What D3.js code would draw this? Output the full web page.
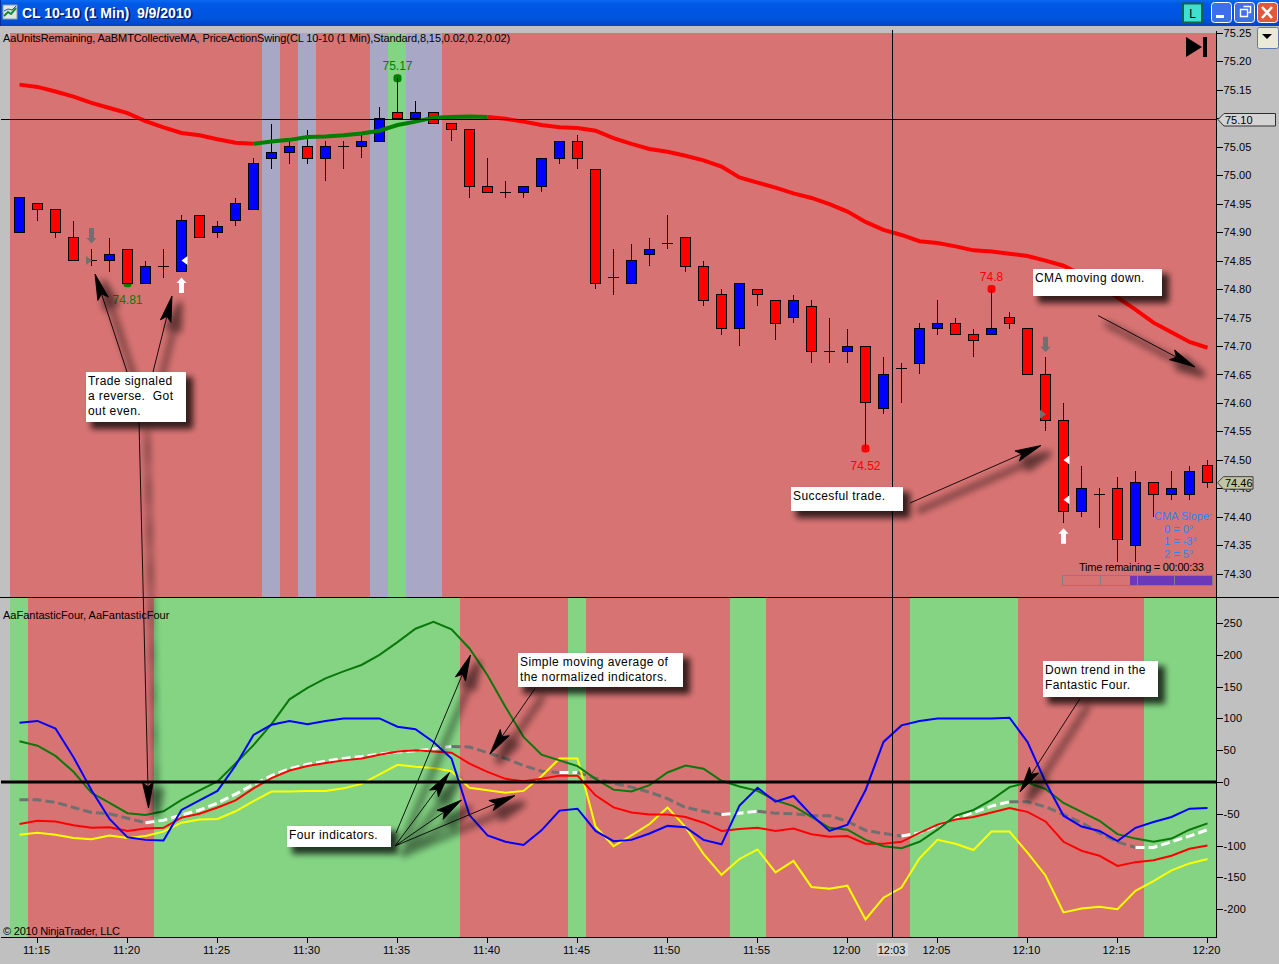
<!DOCTYPE html>
<html>
<head>
<meta charset="utf-8">
<title>CL 10-10 (1 Min)</title>
<script src="https://cdn.jsdelivr.net/npm/d3@7"></script>
<style>
  html, body { margin: 0; padding: 0; background: #c0c0c0; overflow: hidden; }
  svg { display: block; }
  text { font-family: "Liberation Sans", Arial, sans-serif; font-size: 11px; fill: #000; }
  .axis path { display: none; }
  .axis line { stroke: #000; shape-rendering: crispEdges; }
  .axis text { font-size: 11px; letter-spacing: 0.1px; }
</style>
</head>
<body>
<svg id="chart" width="1279" height="964"></svg>
<script>
// one candle per minute, first one is 11:14
var opens = [74.90,74.95,74.94,74.89,74.85,74.85,74.87,74.81,74.84,74.83,
    74.93,74.90,74.92,74.94,75.03,75.04,75.05,75.03,75.05,75.05,
    75.06,75.11,75.10,75.11,75.09,75.08,74.98,74.97,74.97,74.98,
    75.03,75.06,75.01,74.82,74.81,74.86,74.88,74.89,74.84,74.79,
    74.73,74.80,74.78,74.75,74.77,74.69,74.69,74.70,74.59,74.66,
    74.67,74.73,74.74,74.72,74.72,74.75,74.73,74.65,74.57,74.41,
    74.44,74.45,74.35,74.46,74.44,74.44,74.49];
var closes = [74.96,74.94,74.90,74.85,74.85,74.86,74.81,74.84,74.84,74.92,
    74.89,74.91,74.95,75.02,75.04,75.05,75.03,75.05,75.05,75.06,
    75.10,75.10,75.11,75.09,75.08,74.98,74.97,74.97,74.98,75.03,
    75.06,75.03,74.81,74.82,74.85,74.87,74.88,74.84,74.78,74.73,
    74.81,74.79,74.74,74.78,74.69,74.69,74.70,74.60,74.65,74.66,
    74.73,74.74,74.72,74.71,74.73,74.74,74.65,74.57,74.41,74.45,
    74.44,74.36,74.46,74.44,74.45,74.48,74.46];
var highs = [74.96,74.95,74.94,74.92,74.87,74.89,74.87,74.85,74.87,74.93,
    74.93,74.92,74.96,75.03,75.09,75.06,75.08,75.06,75.06,75.07,
    75.12,75.17,75.13,75.11,75.09,75.08,75.03,74.99,74.98,75.03,
    75.06,75.07,75.01,74.87,74.88,74.89,74.93,74.89,74.85,74.80,
    74.81,74.80,74.78,74.79,74.78,74.75,74.73,74.70,74.68,74.67,
    74.74,74.78,74.75,74.73,74.80,74.76,74.73,74.68,74.60,74.49,
    74.45,74.47,74.48,74.46,74.48,74.49,74.50];
var lows = [74.90,74.92,74.89,74.85,74.84,74.83,74.81,74.81,74.82,74.83,
    74.89,74.89,74.91,74.94,75.01,75.02,75.02,74.99,75.01,75.03,
    75.06,75.10,75.10,75.09,75.06,74.96,74.97,74.96,74.96,74.97,
    75.02,75.01,74.80,74.79,74.81,74.84,74.87,74.83,74.77,74.72,
    74.70,74.77,74.71,74.74,74.67,74.67,74.67,74.52,74.58,74.60,
    74.65,74.72,74.72,74.68,74.72,74.73,74.65,74.55,74.39,74.40,
    74.38,74.32,74.32,74.40,74.43,74.43,74.45];

// collective moving average on the price panel
var cmaValues = [75.159,75.155,75.147,75.138,75.127,75.118,75.109,75.095,75.084,75.074,
    75.070,75.063,75.057,75.055,75.059,75.062,75.067,75.068,75.070,75.073,
    75.078,75.088,75.094,75.101,75.102,75.103,75.102,75.099,75.094,75.088,
    75.084,75.083,75.078,75.065,75.055,75.046,75.041,75.034,75.026,75.015,
    74.996,74.987,74.978,74.968,74.960,74.949,74.936,74.918,74.904,74.895,
    74.884,74.881,74.875,74.868,74.866,74.862,74.858,74.850,74.841,74.825,
    74.809,74.785,74.764,74.741,74.724,74.707,74.697];
var cmaRisingFrom = 13, cmaRisingTo = 26;

// fantastic four panel
var blueValues = [93,96,84,39,-13,-58,-87,-91,-92,-44,
    -29,-14,26,74,90,96,91,96,100,100,
    100,87,83,63,37,-52,-84,-94,-99,-76,
    -45,-42,-77,-93,-91,-81,-69,-71,-91,-98,
    -37,-9,-31,-22,-52,-77,-67,-13,63,89,
    96,100,100,100,100,101,63,0,-53,-70,
    -77,-93,-72,-63,-55,-42,-41];
var greenValues = [64,57,41,16,-17,-33,-49,-52,-46,-28,
    -13,1,29,58,91,130,148,163,174,184,
    200,220,241,252,240,210,168,118,71,43,
    34,25,5,-12,-15,-5,15,26,21,2,
    -7,-14,-29,-38,-55,-72,-75,-91,-101,-104,
    -94,-75,-53,-44,-28,-8,-1,-11,-33,-47,
    -61,-82,-89,-94,-89,-75,-65];
var redValues = [-66,-61,-62,-68,-72,-71,-77,-73,-72,-56,
    -50,-40,-29,-10,6,18,25,30,34,37,
    43,48,50,48,46,29,16,5,1,5,
    10,10,-21,-40,-48,-51,-51,-55,-64,-77,
    -74,-72,-77,-73,-82,-86,-85,-97,-97,-94,
    -80,-67,-59,-55,-48,-41,-47,-62,-94,-108,
    -116,-132,-126,-123,-116,-105,-100];
var yellowValues = [-83,-80,-83,-88,-90,-84,-88,-85,-78,-64,
    -59,-58,-46,-30,-15,-15,-14,-14,-10,-3,
    12,27,24,22,17,-9,-13,-17,-14,9,
    37,37,-70,-101,-84,-66,-40,-71,-113,-146,
    -121,-106,-142,-124,-165,-168,-163,-216,-182,-166,
    -120,-91,-97,-107,-78,-78,-111,-147,-205,-199,
    -196,-200,-171,-156,-139,-128,-121];
var smaValues = [-28,-28,-32,-40,-48,-50,-57,-64,-60,-52,
    -44,-33,-19,-4,10,21,28,33,37,40,
    44,47,49,52,56,55,46,37,26,17,
    15,15,6,-2,-8,-16,-26,-40,-46,-51,
    -49,-46,-49,-50,-53,-53,-62,-76,-81,-85,
    -80,-69,-57,-48,-38,-31,-31,-39,-51,-64,
    -80,-94,-103,-103,-94,-85,-75];

// background state of each minute, [first, last, state]
var upperBands = [[0,13,"down"],[14,14,"flat"],[15,15,"down"],[16,16,"flat"],[17,19,"down"],
    [20,20,"flat"],[21,21,"up"],[22,23,"flat"],[24,66,"down"]];
var lowerBands = [[0,0,"up"],[1,7,"down"],[8,24,"up"],[25,30,"down"],[31,31,"up"],[32,39,"down"],
    [40,41,"up"],[42,49,"down"],[50,55,"up"],[56,62,"down"],[63,66,"up"]];

var priceTicks = [75.25,75.20,75.15,75.10,75.05,75.00,74.95,74.90,74.85,74.80,74.75,74.70,74.65,74.60,74.55,74.50,74.45,74.40,74.35,74.30];
var indicatorTicks = [250,200,150,100,50,0,-50,-100,-150,-200];
var timeTickIndex = [1,6,11,16,21,26,31,36,41,46,51,56,61,66];
var timeTickLabels = ["11:15","11:20","11:25","11:30","11:35","11:40","11:45","11:50","11:55","12:00","12:05","12:10","12:15","12:20"];

// swing points: [minute index, price, label, colour, label offset]
var swingPoints = [[21,75.17,"75.17","#008000",-8],[6,74.81,"74.81","#008000",21],[54,74.80,"74.8","#ff0000",-8],[47,74.52,"74.52","#ff0000",21]];
// trade arrows and entry markers: [minute index, price, colour]
var tradeArrowsDown = [[4,74.893,"#707070"],[57,74.702,"#707070"]];
var tradeArrowsUp = [[9,74.807,"#ffffff"],[58,74.367,"#ffffff"]];
var entryRight = [[4,74.85,"#707070"],[57,74.58,"#707070"]];
var entryLeft = [[9,74.85,"#ffffff"],[58,74.50,"#ffffff"],[58,74.43,"#ffffff"]];

var crossIndex = 48.5, crossPrice = 75.098, crossPriceLabel = "75.10", crossTimeLabel = "12:03";
var lastPrice = 74.46;

var bandColors = { down: "#d87373", up: "#84d484", flat: "#a8a8c6" };
var lineColors = { blue: "#0000ff", green: "#0a780a", red: "#ff0000", yellow: "#ffff00" };

var panelLeft = 10, panelRight = 1216.5, upperTop = 33, panelSplit = 597.5, lowerBottom = 937;

var x = d3.scaleLinear().domain([0, 66]).range([19.5, 1207.5]);
var yPrice = d3.scaleLinear().domain([74.30, 75.25]).range([573.8, 32.8]);
var yInd = d3.scaleLinear().domain([-200, 250]).range([909.2, 623]);

var svg = d3.select("#chart");
var defs = svg.append("defs");

var grad = defs.append("linearGradient").attr("id", "titleGrad").attr("x1", 0).attr("y1", 0).attr("x2", 0).attr("y2", 1);
grad.append("stop").attr("offset", "0").attr("stop-color", "#0a6af0");
grad.append("stop").attr("offset", "0.15").attr("stop-color", "#0058e6");
grad.append("stop").attr("offset", "0.7").attr("stop-color", "#0054de");
grad.append("stop").attr("offset", "1").attr("stop-color", "#0044c4");

addShadowFilter("boxShadow", 6, 6, 1, 3, 0.75);
addShadowFilter("lineShadow", 8, 8, 2, 3.5, 0.55);

drawWindow();
drawBands(upperBands, upperTop, panelSplit);
drawBands(lowerBands, panelSplit, lowerBottom);
drawPricePanel();
drawIndicatorPanel();
drawAxes();
drawCrosshair();
drawCallouts();

// blurred shadow, the dilate step keeps thin lines visible
function addShadowFilter(id, dx, dy, grow, blur, opacity) {
    var f = defs.append("filter").attr("id", id).attr("filterUnits", "userSpaceOnUse")
        .attr("x", 0).attr("y", 0).attr("width", 1279).attr("height", 964);
    f.append("feMorphology").attr("in", "SourceAlpha").attr("operator", "dilate").attr("radius", grow).attr("result", "fat");
    f.append("feGaussianBlur").attr("in", "fat").attr("stdDeviation", blur).attr("result", "soft");
    f.append("feOffset").attr("in", "soft").attr("dx", dx).attr("dy", dy).attr("result", "moved");
    f.append("feComponentTransfer").attr("in", "moved").attr("result", "faded")
        .append("feFuncA").attr("type", "linear").attr("slope", opacity);
    var m = f.append("feMerge");
    m.append("feMergeNode").attr("in", "faded");
    m.append("feMergeNode").attr("in", "SourceGraphic");
}

function drawWindow() {
    svg.append("rect").attr("width", 1279).attr("height", 26).attr("fill", "url(#titleGrad)");
    svg.append("rect").attr("width", 1).attr("height", 26).attr("fill", "#0030a0");

    // little chart icon
    var icon = svg.append("g").attr("transform", "translate(3,5)");
    icon.append("rect").attr("width", 14).attr("height", 14).attr("fill", "#dfe8df").attr("stroke", "#8aa0b0");
    icon.append("path").attr("d", "M1,11L5,7L8,9L13,3").attr("fill", "none").attr("stroke", "#1a8a2a").attr("stroke-width", 2);
    icon.append("path").attr("d", "M1,6L5,4L9,5L13,1").attr("fill", "none").attr("stroke", "#2050c0");

    svg.append("text").attr("x", 23).attr("y", 18).style("font-size", "14px").style("font-weight", "bold")
        .style("fill", "#00207a").attr("dx", 1).attr("dy", 1).attr("xml:space", "preserve").text("CL 10-10 (1 Min)  9/9/2010");
    svg.append("text").attr("x", 22).attr("y", 18).style("font-size", "14px").style("font-weight", "bold")
        .style("fill", "#fff").attr("xml:space", "preserve").text("CL 10-10 (1 Min)  9/9/2010");

    // L button
    svg.append("rect").attr("x", 1183).attr("y", 3.5).attr("width", 19).attr("height", 19)
        .attr("fill", "#40e0d0").attr("stroke", "#17614f").attr("stroke-width", 2);
    svg.append("text").attr("x", 1192.5).attr("y", 18).attr("text-anchor", "middle").style("font-size", "12px").text("L");

    // minimize, restore, close
    [[1211, "#3f6fe8"], [1234, "#3f6fe8"], [1257, "#e2593a"]].forEach(function (b) {
        svg.append("rect").attr("x", b[0] + 0.5).attr("y", 2.5).attr("width", 20).attr("height", 20).attr("rx", 3)
            .attr("fill", b[1]).attr("stroke", "#fff");
    });
    svg.append("rect").attr("x", 1216).attr("y", 15).attr("width", 8).attr("height", 3).attr("fill", "#fff");
    svg.append("path").attr("d", "M1243.5,6.5h7v6h-2M1240.5,9.5h7v7h-7z").attr("fill", "none").attr("stroke", "#fff").attr("stroke-width", 1.4);
    svg.append("path").attr("d", "M1262,7L1272,18M1272,7L1262,18").attr("stroke", "#fff").attr("stroke-width", 2.6);

    // dropdown next to the price axis
    svg.append("rect").attr("x", 1257.5).attr("y", 27.5).attr("width", 21).attr("height", 21).attr("rx", 2)
        .attr("fill", "#ece9d8").attr("stroke", "#5a7cb0");
    svg.append("path").attr("d", "M1262,34h10l-5,5z").attr("fill", "#000");
}

function drawBands(bands, top, bottom) {
    var left = function (d) { return Math.max(panelLeft, Math.floor(x(d[0]) - 9)); };
    svg.append("g").selectAll("rect").data(bands).join("rect")
        .attr("x", left)
        .attr("y", top)
        .attr("width", function (d) { return Math.floor(x(d[1]) + 9) - left(d); })
        .attr("height", bottom - top)
        .attr("fill", function (d) { return bandColors[d[2]]; })
        .attr("shape-rendering", "crispEdges");
}

function drawPricePanel() {
    svg.append("text").attr("x", 3).attr("y", 42).style("letter-spacing", "-0.11px")
        .text("AaUnitsRemaining, AaBMTCollectiveMA, PriceActionSwing(CL 10-10 (1 Min),Standard,8,15,0.02,0.2,0.02)");

    // jump to end icon
    svg.append("path").attr("d", "M1186,37L1202,47L1186,57z").attr("fill", "#000");
    svg.append("rect").attr("x", 1203).attr("y", 37).attr("width", 4).attr("height", 20).attr("fill", "#000");

    // swing dots sit behind the candles
    svg.append("g").selectAll("rect").data(swingPoints).join("rect")
        .attr("x", function (d) { return x(d[0]) - 4; })
        .attr("y", function (d) { return yPrice(d[1]) - 4; })
        .attr("width", 8).attr("height", 8).attr("rx", 3)
        .attr("fill", function (d) { return d[3]; });
    svg.append("g").selectAll("text").data(swingPoints).join("text")
        .attr("x", function (d) { return x(d[0]); })
        .attr("y", function (d) { return yPrice(d[1]) + d[4]; })
        .attr("text-anchor", "middle")
        .style("font-size", "12px")
        .style("fill", function (d) { return d[3]; })
        .text(function (d) { return d[2]; });

    var candles = d3.range(opens.length);
    var g = svg.append("g").attr("shape-rendering", "crispEdges");
    g.selectAll("line.wick").data(candles).join("line").attr("class", "wick")
        .attr("x1", function (i) { return x(i); }).attr("x2", function (i) { return x(i); })
        .attr("y1", function (i) { return yPrice(highs[i]); })
        .attr("y2", function (i) { return yPrice(lows[i]); })
        .attr("stroke", "#000");
    g.selectAll("rect.body").data(candles.filter(function (i) { return opens[i] !== closes[i]; })).join("rect").attr("class", "body")
        .attr("x", function (i) { return x(i) - 5; })
        .attr("y", function (i) { return yPrice(Math.max(opens[i], closes[i])); })
        .attr("width", 10)
        .attr("height", function (i) { return Math.abs(yPrice(opens[i]) - yPrice(closes[i])); })
        .attr("fill", function (i) { return closes[i] > opens[i] ? "#0000ff" : "#ff0000"; })
        .attr("stroke", "#000");
    g.selectAll("line.doji").data(candles.filter(function (i) { return opens[i] === closes[i]; })).join("line").attr("class", "doji")
        .attr("x1", function (i) { return x(i) - 5.5; }).attr("x2", function (i) { return x(i) + 5.5; })
        .attr("y1", function (i) { return yPrice(opens[i]); })
        .attr("y2", function (i) { return yPrice(opens[i]); })
        .attr("stroke", "#000");

    // CMA, green while it is rising
    var cmaLine = d3.line().x(function (d) { return x(d[0]); }).y(function (d) { return yPrice(d[1]); });
    var cmaPts = cmaValues.map(function (v, i) { return [i, v]; });
    var cmaParts = [[cmaPts.slice(0, cmaRisingFrom + 1), "#ff0000"],
        [cmaPts.slice(cmaRisingTo), "#ff0000"],
        [cmaPts.slice(cmaRisingFrom, cmaRisingTo + 1), "#008000"]];
    svg.append("g").selectAll("path").data(cmaParts).join("path")
        .attr("d", function (d) { return cmaLine(d[0]); })
        .attr("fill", "none")
        .attr("stroke", function (d) { return d[1]; })
        .attr("stroke-width", 4);

    var arrows = svg.append("g");
    tradeArrowsDown.forEach(function (a) {
        var px = x(a[0]), py = yPrice(a[1]);
        arrows.append("path").attr("fill", a[2])
            .attr("d", "M" + (px - 2.5) + "," + (py - 8) + "h5v10h2.5l-5,5.5l-5,-5.5h2.5z");
    });
    tradeArrowsUp.forEach(function (a) {
        var px = x(a[0]), py = yPrice(a[1]);
        arrows.append("path").attr("fill", a[2])
            .attr("d", "M" + (px - 2.5) + "," + (py + 8) + "h5v-10h2.5l-5,-5.5l-5,5.5h2.5z");
    });
    entryRight.forEach(function (a) {
        var px = x(a[0]), py = yPrice(a[1]);
        arrows.append("path").attr("fill", a[2])
            .attr("d", "M" + (px - 5.5) + "," + (py - 4.5) + "l6,4.5l-6,4.5z");
    });
    entryLeft.forEach(function (a) {
        var px = x(a[0]), py = yPrice(a[1]);
        arrows.append("path").attr("fill", a[2])
            .attr("d", "M" + (px + 6) + "," + (py - 4.5) + "l-6,4.5l6,4.5z");
    });

    // text block bottom right
    [["CMA Slope:", 1154, 520], ["0 = 0°", 1164, 533], ["1 = -3°", 1164, 545], ["2 = 5°", 1164, 558]].forEach(function (t) {
        svg.append("text").attr("x", t[1]).attr("y", t[2]).style("fill", "#2288ff").text(t[0]);
    });
    svg.append("text").attr("x", 1079).attr("y", 571).style("letter-spacing", "-0.24px").text("Time remaining = 00:00:33");

    // units remaining bar
    svg.append("rect").attr("x", 1130).attr("y", 576).attr("width", 82).attr("height", 9).attr("fill", "#6a38b8");
    svg.append("rect").attr("x", 1062.5).attr("y", 575.5).attr("width", 149.5).attr("height", 9.5)
        .attr("fill", "none").attr("stroke", "#808080").attr("shape-rendering", "crispEdges");
    [1100, 1137.5, 1174.5].forEach(function (v) {
        svg.append("line").attr("x1", v).attr("x2", v).attr("y1", 576).attr("y2", 585)
            .attr("stroke", "#808080").attr("shape-rendering", "crispEdges");
    });
}

function drawIndicatorPanel() {
    svg.append("text").attr("x", 3).attr("y", 619).text("AaFantasticFour, AaFantasticFour");
    svg.append("text").attr("x", 3).attr("y", 935).style("letter-spacing", "-0.2px").text("© 2010 NinjaTrader, LLC");

    var line = d3.line().x(function (d, i) { return x(i); }).y(function (d) { return yInd(d); });

    // dashed average changes colour with the band under it
    var isUp = function (i) {
        return lowerBands.some(function (b) { return b[2] === "up" && i >= b[0] && i <= b[1]; });
    };
    var smaLine = d3.line().x(function (d) { return x(d); }).y(function (d) { return yInd(smaValues[d]); });
    var runs = [], current = null;
    for (var i = 1; i < smaValues.length; i++) {
        var col = isUp(i) ? "#ffffff" : "#707070";
        if (!current || current.col !== col) {
            current = { col: col, idx: [i - 1] };
            runs.push(current);
        }
        current.idx.push(i);
    }
    svg.append("g").selectAll("path").data(runs).join("path")
        .attr("d", function (d) { return smaLine(d.idx); })
        .attr("fill", "none")
        .attr("stroke", function (d) { return d.col; })
        .attr("stroke-width", 3)
        .attr("stroke-dasharray", "9,4");

    var series = [[yellowValues, lineColors.yellow], [redValues, lineColors.red], [greenValues, lineColors.green], [blueValues, lineColors.blue]];
    svg.append("g").selectAll("path").data(series).join("path")
        .attr("d", function (d) { return line(d[0]); })
        .attr("fill", "none")
        .attr("stroke", function (d) { return d[1]; })
        .attr("stroke-width", 2);

    // zero line
    svg.append("line").attr("x1", 1).attr("x2", panelRight)
        .attr("y1", yInd(0)).attr("y2", yInd(0))
        .attr("stroke", "#000").attr("stroke-width", 3);
}

function drawAxes() {
    svg.append("g").attr("class", "axis").attr("transform", "translate(" + panelRight + ",0)")
        .call(d3.axisRight(yPrice).tickValues(priceTicks).tickFormat(d3.format(".2f")).tickSize(6).tickPadding(1));
    svg.append("g").attr("class", "axis").attr("transform", "translate(" + panelRight + ",0)")
        .call(d3.axisRight(yInd).tickValues(indicatorTicks).tickFormat(function (d) { return String(d); }).tickSize(6).tickPadding(1));
    var timeAxis = svg.append("g").attr("class", "axis").attr("transform", "translate(0," + (lowerBottom + 0.5) + ")")
        .call(d3.axisBottom(x).tickValues(timeTickIndex).offset(0)
            .tickFormat(function (d, i) { return timeTickLabels[i]; }).tickSize(5).tickPadding(4));
    timeAxis.selectAll("text").attr("dx", -1);

    var frame = svg.append("g").attr("stroke", "#000").attr("shape-rendering", "crispEdges");
    frame.append("line").attr("x1", panelRight).attr("x2", panelRight).attr("y1", upperTop - 2).attr("y2", lowerBottom);
    frame.append("line").attr("x1", 1).attr("x2", panelRight).attr("y1", lowerBottom + 0.5).attr("y2", lowerBottom + 0.5);
    frame.append("line").attr("x1", 0).attr("x2", 1279).attr("y1", panelSplit).attr("y2", panelSplit);

    // last price tag
    var ly = yPrice(lastPrice);
    svg.append("path")
        .attr("d", "M1217.5," + ly + "l6,-6h29.5v12.5h-29.5z")
        .attr("fill", "#c4c4a4").attr("stroke", "#404040");
    svg.append("text").attr("x", 1225).attr("y", ly + 4).text(lastPrice.toFixed(2));
}

function drawCrosshair() {
    var cx = Math.floor(x(crossIndex)) + 0.5, cy = Math.round(yPrice(crossPrice)) + 0.5;
    var g = svg.append("g").attr("stroke", "#000").attr("shape-rendering", "crispEdges");
    g.append("line").attr("x1", 1).attr("x2", panelRight).attr("y1", cy).attr("y2", cy);
    g.append("line").attr("x1", cx).attr("x2", cx).attr("y1", upperTop - 3).attr("y2", lowerBottom);

    svg.append("path")
        .attr("d", "M1218," + cy + "l6,-6h51.5v12.5h-51.5z")
        .attr("fill", "#d4d4d4").attr("stroke", "#303030").attr("stroke-width", 1);
    svg.append("text").attr("x", 1225).attr("y", cy + 4).text(crossPriceLabel);

    svg.append("rect").attr("x", 877).attr("y", 943).attr("width", 31).attr("height", 13).attr("fill", "#d4d4d4");
    svg.append("text").attr("x", 891.5).attr("y", 954).attr("text-anchor", "middle").text(crossTimeLabel);
}

function arrowPath(a) {
    var dx = a.tip[0] - a.from[0], dy = a.tip[1] - a.from[1];
    var len = Math.sqrt(dx * dx + dy * dy);
    var ux = dx / len, uy = dy / len;
    var hl = a.head || 26, hw = 5.5;
    var bx = a.tip[0] - ux * hl, by = a.tip[1] - uy * hl;
    var nx = a.tip[0] - ux * (hl - 5), ny = a.tip[1] - uy * (hl - 5);
    return "M" + a.from[0] + "," + a.from[1] + "L" + nx + "," + ny +
        "M" + a.tip[0] + "," + a.tip[1] +
        "L" + (bx - uy * hw) + "," + (by + ux * hw) +
        "L" + nx + "," + ny +
        "L" + (bx + uy * hw) + "," + (by - ux * hw) + "Z";
}

function drawCallouts() {
    var calloutArrows = [
        { from: [127, 372], tip: [95, 274] },
        { from: [153, 372], tip: [172, 296] },
        { from: [139, 422], tip: [148.5, 808] },
        { from: [1098, 315.5], tip: [1195, 367] },
        { from: [910, 503], tip: [1041, 445.5] },
        { from: [396, 833], tip: [470.5, 655] },
        { from: [395, 846], tip: [449.5, 772.5] },
        { from: [395, 846], tip: [461.5, 800] },
        { from: [395, 846], tip: [515, 795.5] },
        { from: [535, 688.5], tip: [490, 754] },
        { from: [1080, 698.5], tip: [1020, 792] }
    ];
    var calloutBoxes = [
        { x: 86, y: 372, w: 100, h: 50, lines: ["Trade signaled", "a reverse.  Got", "out even."] },
        { x: 1033, y: 269, w: 129, h: 27, lines: ["CMA moving down."] },
        { x: 791, y: 487, w: 112, h: 24, lines: ["Succesful trade."] },
        { x: 287, y: 826, w: 104, h: 21, lines: ["Four indicators."] },
        { x: 518, y: 653, w: 165, h: 34, lines: ["Simple moving average of", "the normalized indicators."] },
        { x: 1043, y: 661, w: 115, h: 36, lines: ["Down trend in the", "Fantastic Four."] }
    ];

    svg.append("g").attr("filter", "url(#lineShadow)").selectAll("path").data(calloutArrows).join("path")
        .attr("d", arrowPath)
        .attr("fill", "#000")
        .attr("stroke", "#000")
        .attr("stroke-width", 0.9);

    var boxes = svg.append("g").selectAll("g").data(calloutBoxes).join("g");
    boxes.append("rect")
        .attr("x", function (d) { return d.x; }).attr("y", function (d) { return d.y; })
        .attr("width", function (d) { return d.w; }).attr("height", function (d) { return d.h; })
        .attr("fill", "#fff")
        .attr("filter", "url(#boxShadow)");
    boxes.each(function (d) {
        var box = d3.select(this);
        d.lines.forEach(function (t, i) {
            box.append("text")
                .attr("x", d.x + 2).attr("y", d.y + 13 + i * 15)
                .attr("xml:space", "preserve")
                .style("font-size", "12px").style("letter-spacing", "0.4px")
                .text(t);
        });
    });
}
</script>
</body>
</html>
